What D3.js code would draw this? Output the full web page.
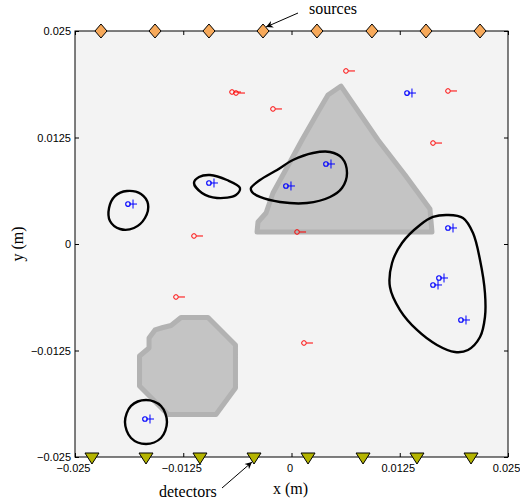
<!DOCTYPE html>
<html lang="en">
<head>
    <meta charset="UTF-8">
    <title>Sources and detectors</title>
    <style>
        body{
            margin: 0;
            background: #fff;
        }
        svg{
            display: block;
        }
        .tick-label{
            font-family: "Liberation Sans", Arial, sans-serif;
            font-size: 11px;
        }
        .serif{
            font-family: "Liberation Serif", "Times New Roman", serif;
        }
    </style>
    <script src="https://d3js.org/d3.v7.min.js"></script>
</head>
<body>
    <script>
        // tick values and labels (same for both axes)
        var tickValues = [-0.025, -0.0125, 0, 0.0125, 0.025];
        var tickLabels = ["\u22120.025", "\u22120.0125", "0", "0.0125", "0.025"];

        // sources (top) and detectors (bottom), x positions in m
        var sourceX = [-0.0220, -0.01576, -0.00953, -0.00329, 0.00294, 0.00929, 0.01553, 0.02177];
        var detectorX = [-0.02304, -0.01680, -0.01057, -0.00433, 0.00191, 0.00826, 0.01449, 0.02073];

        // gray inclusions (outline vertices)
        var triangleX = [0.00572, 0.00999, 0.01311, 0.01599, 0.01622, -0.00398, -0.00387, -0.00294, -0.00214, -0.00017, 0.00121, 0.00306, 0.00421];
        var triangleY = [0.01854, 0.01221, 0.0081, 0.00411, 0.00141, 0.00141, 0.00258, 0.00364, 0.00599, 0.00962, 0.01221, 0.01549, 0.01749];
        var octagonX = [-0.01276, -0.00964, -0.00647, -0.00647, -0.00872, -0.01426, -0.01755, -0.01755, -0.01645, -0.01645, -0.01576, -0.01484, -0.01391];
        var octagonY = [-0.00863, -0.00863, -0.01185, -0.0169, -0.02001, -0.02001, -0.01667, -0.01315, -0.01221, -0.01103, -0.01009, -0.0098, -0.00957];

        // black contours
        var contourAX = [-0.019, -0.01738, -0.01657, -0.01692, -0.01819, -0.0198, -0.02096, -0.02107, -0.02038];
        var contourAY = [0.00622, 0.00587, 0.00469, 0.00305, 0.00188, 0.00176, 0.0027, 0.00423, 0.00563];
        var contourBX = [-0.01126, -0.01068, -0.00941, -0.00745, -0.00595, -0.00641, -0.0086, -0.01034];
        var contourBY = [0.00716, 0.00786, 0.0081, 0.00751, 0.00657, 0.00575, 0.0054, 0.00599];
        var contourCX = [-0.00468, -0.00364, -0.00167, 0.00017, 0.00248, 0.00445, 0.00583, 0.00641, 0.00583, 0.00445, 0.00179, -0.00133, -0.00364, -0.00456];
        var contourCY = [0.00657, 0.00751, 0.00869, 0.00986, 0.01068, 0.0108, 0.01009, 0.00833, 0.00657, 0.00552, 0.00481, 0.00493, 0.00552, 0.0061];
        var contourDX = [0.01807, 0.0198, 0.02096, 0.02177, 0.02234, 0.02234, 0.02177, 0.02038, 0.01888, 0.0168, 0.01449, 0.01253, 0.01137, 0.01161, 0.01276, 0.01484, 0.01634];
        var contourDY = [0.0034, 0.00305, 0.00129, -0.00188, -0.00575, -0.00857, -0.01092, -0.01244, -0.01268, -0.01185, -0.01009, -0.00775, -0.00505, -0.00223, 0.00012, 0.00223, 0.00317];
        var contourEX = [-0.0168, -0.01507, -0.01438, -0.01507, -0.0168, -0.01853, -0.01923, -0.01853];
        var contourEY = [-0.01831, -0.01901, -0.02089, -0.02277, -0.02347, -0.02277, -0.02089, -0.01901];

        // blue: circles (estimated) and pluses
        var blueCircleX = [-0.01888, -0.00953, 0.00398, -0.00064, 0.01334, 0.01807, 0.01703, 0.01634, 0.01957, -0.01692];
        var bluePlusX = [-0.0183, -0.00895, 0.00456, -0.00006, 0.01391, 0.01865, 0.01761, 0.01692, 0.02015, -0.01634];
        var blueY = [0.00469, 0.00716, 0.00939, 0.00681, 0.01772, 0.00188, -0.00399, -0.00481, -0.00892, -0.02054];

        // red: circles with a short dash to the right
        var redX = [-0.00687, -0.00641, -0.00214, 0.00629, 0.01807, 0.01634, -0.01126, 0.00064, -0.01334, 0.00144];
        var redEndX = [-0.00583, -0.00537, -0.0011, 0.00733, 0.01911, 0.01738, -0.01022, 0.00168, -0.0123, 0.00248];
        var redY = [0.01784, 0.01772, 0.01585, 0.02031, 0.01796, 0.01185, 0.00094, 0.00141, -0.00622, -0.01162];

        var width = 520, height = 502;
        var x = d3.scaleLinear().domain([-0.025, 0.025]).range([75, 508]);
        var y = d3.scaleLinear().domain([-0.025, 0.025]).range([457, 31]);

        var svg = d3.select("body").append("svg")
            .attr("width", width)
            .attr("height", height);

        var defs = svg.append("defs");
        defs.append("clipPath").attr("id", "plot-clip")
            .append("rect")
            .attr("x", x(-0.025)).attr("y", y(0.025))
            .attr("width", x(0.025) - x(-0.025))
            .attr("height", y(-0.025) - y(0.025));
        defs.append("marker")
            .attr("id", "arrow")
            .attr("viewBox", "0 0 10 10")
            .attr("refX", 10).attr("refY", 5)
            .attr("markerWidth", 9).attr("markerHeight", 7)
            .attr("markerUnits", "userSpaceOnUse")
            .attr("orient", "auto")
            .append("path")
            .attr("d", "M0,0L10,5L0,10L3,5Z")
            .attr("fill", "#000");

        // background field
        svg.append("rect")
            .attr("x", x(-0.025)).attr("y", y(0.025))
            .attr("width", x(0.025) - x(-0.025))
            .attr("height", y(-0.025) - y(0.025))
            .attr("fill", "#f3f3f3");

        var plot = svg.append("g").attr("clip-path", "url(#plot-clip)");

        function pts(xs, ys){
            return xs.map(function(v, i){ return [v, ys[i]]; });
        }

        var polyLine = d3.line()
            .x(function(d){ return x(d[0]); })
            .y(function(d){ return y(d[1]); })
            .curve(d3.curveLinearClosed);

        [pts(triangleX, triangleY), pts(octagonX, octagonY)].forEach(function(p){
            plot.append("path")
                .attr("d", polyLine(p))
                .attr("fill", "#c4c4c4")
                .attr("stroke", "#b2b2b2")
                .attr("stroke-width", 5)
                .attr("stroke-linejoin", "round");
        });

        var smoothLine = d3.line()
            .x(function(d){ return x(d[0]); })
            .y(function(d){ return y(d[1]); })
            .curve(d3.curveCatmullRomClosed.alpha(0.5));

        var contours = [
            pts(contourAX, contourAY),
            pts(contourBX, contourBY),
            pts(contourCX, contourCY),
            pts(contourDX, contourDY),
            pts(contourEX, contourEY)
        ];
        plot.selectAll(".contour")
            .data(contours)
            .enter().append("path")
            .attr("class", "contour")
            .attr("d", smoothLine)
            .attr("fill", "none")
            .attr("stroke", "#000")
            .attr("stroke-width", 2.4);

        // red markers
        for(var i=0; i<redX.length; i++){
            plot.append("line")
                .attr("x1", x(redX[i]) + 2.5)
                .attr("y1", y(redY[i]))
                .attr("x2", x(redEndX[i]))
                .attr("y2", y(redY[i]))
                .attr("stroke", "#ff0000")
                .attr("stroke-width", 1);
            plot.append("circle")
                .attr("cx", x(redX[i]))
                .attr("cy", y(redY[i]))
                .attr("r", 2.3)
                .attr("fill", "none")
                .attr("stroke", "#ff0000")
                .attr("stroke-width", 1);
        }

        // blue markers
        for(i=0; i<blueY.length; i++){
            var px = x(bluePlusX[i]), py = y(blueY[i]);
            plot.append("path")
                .attr("d", "M" + (px - 4) + "," + py + "H" + (px + 4) + "M" + px + "," + (py - 4.5) + "V" + (py + 4.5))
                .attr("stroke", "#0000ff")
                .attr("stroke-width", 1);
            plot.append("circle")
                .attr("cx", x(blueCircleX[i]))
                .attr("cy", py)
                .attr("r", 2.3)
                .attr("fill", "none")
                .attr("stroke", "#0000ff")
                .attr("stroke-width", 1.1);
        }

        // axes: ticks point inward on all four sides
        function fmt(d){ return tickLabels[tickValues.indexOf(d)]; }
        var axB = svg.append("g")
            .attr("transform", "translate(0," + y(-0.025) + ")")
            .call(d3.axisBottom(x).tickValues(tickValues).tickFormat(fmt).tickSizeInner(-4).tickSizeOuter(0).tickPadding(7));
        var axT = svg.append("g")
            .attr("transform", "translate(0," + y(0.025) + ")")
            .call(d3.axisTop(x).tickValues(tickValues).tickFormat("").tickSizeInner(-4).tickSizeOuter(0));
        var axL = svg.append("g")
            .attr("transform", "translate(" + x(-0.025) + ",0)")
            .call(d3.axisLeft(y).tickValues(tickValues).tickFormat(fmt).tickSizeInner(-4).tickSizeOuter(0).tickPadding(4));
        var axR = svg.append("g")
            .attr("transform", "translate(" + x(0.025) + ",0)")
            .call(d3.axisRight(y).tickValues(tickValues).tickFormat("").tickSizeInner(-4).tickSizeOuter(0));
        [axB, axT, axL, axR].forEach(function(a){
            a.select(".domain").remove();
            a.selectAll("line").attr("stroke", "#000");
            a.selectAll("text")
                .attr("class", "tick-label")
                .attr("fill", "#000");
            a.attr("font-family", null).attr("font-size", null);
        });
        axB.selectAll("text").attr("dy", "0.71em").attr("dx", -2);

        // frame
        svg.append("rect")
            .attr("x", x(-0.025)).attr("y", y(0.025))
            .attr("width", x(0.025) - x(-0.025))
            .attr("height", y(-0.025) - y(0.025))
            .attr("fill", "none")
            .attr("stroke", "#000")
            .attr("stroke-width", 1);

        // sources: diamonds along the top edge
        svg.selectAll(".source")
            .data(sourceX)
            .enter().append("path")
            .attr("class", "source")
            .attr("d", function(d){
                var cx = x(d), cy = y(0.025);
                return "M" + cx + "," + (cy - 7) + "L" + (cx + 6) + "," + cy + "L" + cx + "," + (cy + 7) + "L" + (cx - 6) + "," + cy + "Z";
            })
            .attr("fill", "#f7a95a")
            .attr("stroke", "#000")
            .attr("stroke-width", 1);

        // detectors: down triangles along the bottom edge
        svg.selectAll(".detector")
            .data(detectorX)
            .enter().append("path")
            .attr("class", "detector")
            .attr("d", function(d){
                var cx = x(d), cy = y(-0.025);
                return "M" + (cx - 7) + "," + (cy - 4) + "L" + (cx + 7) + "," + (cy - 4) + "L" + cx + "," + (cy + 7) + "Z";
            })
            .attr("fill", "#b4b400")
            .attr("stroke", "#000")
            .attr("stroke-width", 1);

        // axis titles
        svg.append("text")
            .attr("class", "serif")
            .attr("x", x(0) - 1).attr("y", 494)
            .attr("text-anchor", "middle")
            .attr("font-size", 16)
            .text("x (m)");
        svg.append("text")
            .attr("class", "serif")
            .attr("transform", "translate(23," + y(0) + ") rotate(-90)")
            .attr("text-anchor", "middle")
            .attr("font-size", 16)
            .text("y (m)");

        // annotations
        var srcTip = [x(sourceX[3]) + 3, y(0.025) - 4];
        svg.append("line")
            .attr("x1", 298).attr("y1", 13)
            .attr("x2", srcTip[0]).attr("y2", srcTip[1])
            .attr("stroke", "#000").attr("stroke-width", 1)
            .attr("marker-end", "url(#arrow)");
        svg.append("text")
            .attr("class", "serif")
            .attr("x", 309).attr("y", 14)
            .attr("font-size", 16)
            .text("sources");

        var detTip = [x(detectorX[3]) - 2, y(-0.025) + 5];
        svg.append("line")
            .attr("x1", 222).attr("y1", 488)
            .attr("x2", detTip[0]).attr("y2", detTip[1])
            .attr("stroke", "#000").attr("stroke-width", 1)
            .attr("marker-end", "url(#arrow)");
        svg.append("text")
            .attr("class", "serif")
            .attr("x", 159).attr("y", 497)
            .attr("font-size", 16)
            .text("detectors");
    </script>
</body>
</html>
